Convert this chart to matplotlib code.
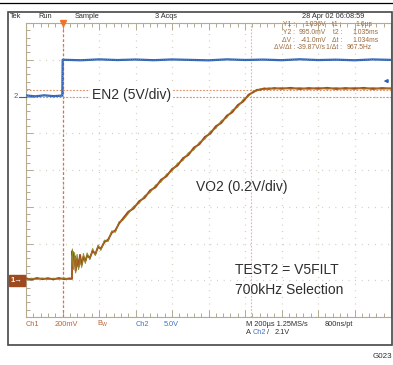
import matplotlib
matplotlib.use("Agg")
import matplotlib.pyplot as plt
import matplotlib.transforms as mtransforms
from matplotlib.patches import Rectangle
from matplotlib.ticker import MultipleLocator

plt.rcParams['font.family'] = ['Liberation Sans', 'DejaVu Sans']

# --- scope settings ---
ch1_vdiv = 0.2      # V/div
ch2_vdiv = 5.0      # V/div
t_div = 200         # us/div
trig_t = 0.0
trig_level = 2.1    # V on ch2

# cursors
t1 = 1.6
t2 = 1035.0
y1 = 1.036
y2 = 0.995

# --- VO2 (ch1), two acquisitions ---
vo2_t = [-200, -170, -140, -110, -80, -50, -20, 10, 40, 52,
         54, 60, 66, 72, 80, 88, 96, 105, 115, 125, 135, 150, 165, 180, 195, 210, 230, 250, 270, 290, 310, 330,
         360, 390, 420, 450, 480, 510, 540, 570, 600, 630, 660, 690, 720, 750, 780, 810, 840, 870, 900, 930,
         960, 990, 1020,
         1045, 1065, 1085, 1105, 1130, 1160, 1200, 1250, 1300, 1350, 1400, 1450, 1500, 1550, 1600, 1650,
         1700, 1750, 1800]
vo2_a = [0.010, 0.004, 0.012, 0.006, 0.011, 0.005, 0.012, 0.006, 0.010, 0.008,
         0.158, 0.105, 0.132, 0.052, 0.118, 0.072, 0.138, 0.084, 0.128, 0.104, 0.134, 0.122, 0.160, 0.143,
         0.181, 0.172, 0.208, 0.221, 0.259, 0.272, 0.309, 0.334,
         0.372, 0.391, 0.430, 0.449, 0.489, 0.506, 0.547, 0.566, 0.605, 0.624, 0.664, 0.682, 0.722, 0.740,
         0.780, 0.798, 0.838, 0.856, 0.895, 0.914, 0.953, 0.973, 1.010,
         1.023, 1.036, 1.037, 1.044, 1.041, 1.046, 1.042, 1.047, 1.041, 1.046, 1.042, 1.047, 1.041, 1.046,
         1.042, 1.047, 1.041, 1.046, 1.043]
vo2_b = [0.004, 0.011, 0.005, 0.012, 0.004, 0.011, 0.005, 0.012, 0.004, 0.006,
         0.170, 0.060, 0.150, 0.040, 0.140, 0.058, 0.120, 0.070, 0.145, 0.092, 0.148, 0.112, 0.172, 0.135,
         0.192, 0.163, 0.218, 0.212, 0.268, 0.262, 0.318, 0.326,
         0.362, 0.402, 0.419, 0.460, 0.477, 0.518, 0.535, 0.577, 0.594, 0.636, 0.652, 0.694, 0.710, 0.751,
         0.768, 0.810, 0.826, 0.868, 0.884, 0.926, 0.942, 0.984, 1.002,
         1.030, 1.030, 1.043, 1.037, 1.047, 1.040, 1.048, 1.040, 1.048, 1.039, 1.049, 1.040, 1.048, 1.039,
         1.049, 1.040, 1.048, 1.040, 1.046]

# --- EN2 (ch2) ---
en2_t = [-200, -150, -100, -50, -1, 1, 100, 200, 300, 400, 500, 600, 700, 800, 900, 1000,
         1100, 1200, 1300, 1400, 1500, 1600, 1700, 1800]
en2_v = [0.15, 0.02, 0.16, 0.05, 0.12, 5.00, 4.93, 5.05, 4.96, 5.03, 4.94, 5.04, 4.98, 4.92, 5.05,
         4.97, 5.02, 4.94, 5.06, 4.96, 5.01, 4.93, 5.04, 4.98]

brown = '#a9481b'
olive = '#8d9c2e'
blue = '#2f62b3'
grat = '#b4aa90'
curs = '#e08a62'
txt = '#2e2e2e'
rd = '#9a6a3e'

W, H = 393, 365
fig = plt.figure(figsize=(W / 100, H / 100), dpi=100)

# graticule
gl, gr, gt, gb = 26, 391, 23, 317
ax = fig.add_axes([gl / W, (H - gb) / H, (gr - gl) / W, (gb - gt) / H])
ax.set_xlim(-t_div, 9 * t_div)
ax.set_ylim(-ch1_vdiv, 7 * ch1_vdiv)
ax.xaxis.set_major_locator(MultipleLocator(t_div))
ax.xaxis.set_minor_locator(MultipleLocator(t_div / 5))
ax.yaxis.set_major_locator(MultipleLocator(ch1_vdiv))
ax.yaxis.set_minor_locator(MultipleLocator(ch1_vdiv / 5))
ax.tick_params(which='both', direction='in', top=True, right=True, color=grat,
               labelbottom=False, labelleft=False, width=0.7)
ax.tick_params(which='major', length=5)
ax.tick_params(which='minor', length=2.6)
for s in ax.spines.values():
    s.set_color(grat)
    s.set_linewidth(0.8)
ax.grid(True, which='major', color='#c4bca6', lw=0.9, linestyle=(0, (0.6, 4.66)))

# cursors
ax.axvline(t1, color='#e2703c', lw=0.9, linestyle=(0, (2.2, 1.6)), zorder=2)
ax.axvline(t2, color='#eab0a0', lw=0.8, linestyle=(0, (1.5, 1.5)), zorder=2)
ax.axhline(y1, color=curs, lw=0.8, linestyle=(0, (1.5, 1.5)), zorder=2)
ax.axhline(y2, color=curs, lw=0.8, linestyle=(0, (1.5, 1.5)), zorder=2)
ax.plot([trig_t], [7 * ch1_vdiv], marker='v', ms=4.5, color='#f07428', clip_on=False, zorder=6)

# VO2
ax.plot(vo2_t, vo2_b, color=olive, lw=0.8, zorder=3)
ax.plot(vo2_t, vo2_a, color=brown, lw=1.4, zorder=4)
ax.plot(vo2_t, vo2_b, color=olive, lw=0.5, alpha=0.7, zorder=5)

# EN2 on its own scale
ax2 = ax.twinx()
ax2.set_ylim(-6 * ch2_vdiv, 2 * ch2_vdiv)
ax2.axis('off')
ax2.plot(en2_t, en2_v, color=blue, lw=1.6, zorder=4)
ax2.plot(en2_t, en2_v, color='#7a9fdc', lw=0.5, linestyle=(0, (1, 2)), zorder=5)
ax2.annotate('', xy=(0.972, trig_level), xytext=(1.0, trig_level),
             xycoords=('axes fraction', 'data'), textcoords=('axes fraction', 'data'),
             arrowprops=dict(arrowstyle='-|>', color=blue, lw=1.0, mutation_scale=5))

# page overlay in pixel units, drawn above the graticule
bg = fig.add_axes([0, 0, 1, 1])
bg.set_zorder(5)
bg.set_xlim(0, W)
bg.set_ylim(H, 0)
bg.axis('off')
bg.plot([0, W], [3, 3], color='black', lw=0.9)
bg.add_patch(Rectangle((8, 12), 384, 333, fill=False, ec='#474747', lw=1.2))

# ground markers
tr1 = mtransforms.blended_transform_factory(bg.transData, ax.transData)
bg.text(11, 0, '1\u2192', transform=tr1, color='white', fontsize=5.5, va='center', ha='left',
        fontweight='bold',
        bbox=dict(boxstyle='square,pad=0.25', fc='#9e4a1e', ec='#9e4a1e'))
tr2 = mtransforms.blended_transform_factory(bg.transData, ax2.transData)
bg.text(14, 0, '2', transform=tr2, color=blue, fontsize=5.5, va='center', ha='left')
bg.plot([19, 26], [0, 0], transform=tr2, color=blue, lw=0.8)

# header
sm = 5.3
bg.text(10, 16, 'Tek', fontsize=sm, color=txt, va='center')
bg.text(38, 16, 'Run', fontsize=sm, color=txt, va='center')
bg.text(75, 16, 'Sample', fontsize=sm, color=txt, va='center')
bg.text(155, 16, '3 Acqs', fontsize=sm, color=txt, va='center')
bg.text(302, 16, '28 Apr 02 06:08:59', fontsize=sm, color=txt, va='center')

# cursor readout
rd_fs = 4.9
rows = [25, 32.5, 40, 47.5]
labels_v = ['Y1 :', 'Y2 :', '\u0394V :', '\u0394V/\u0394t :']
values_v = ['1.036V', '995.0mV', '-41.0mV', '-39.87V/s']
labels_t = ['t1 :', 't2 :', '\u0394t :', '1/\u0394t :']
values_t = ['1.6\u00b5s', '1.035ms', '1.034ms', '967.5Hz']
values_t_x = [355, 352, 352, 347]
for i, yy in enumerate(rows):
    bg.text(295, yy, labels_v[i], fontsize=rd_fs, color=rd, va='center', ha='right')
    bg.text(326, yy, values_v[i], fontsize=rd_fs, color=rd, va='center', ha='right')
    bg.text(342, yy, labels_t[i], fontsize=rd_fs, color=rd, va='center', ha='right')
    bg.text(values_t_x[i], yy, values_t[i], fontsize=rd_fs, color=rd, va='center', ha='left')

# footer
bg.text(26, 324, 'Ch1', fontsize=sm, color='#b86434', va='center')
bg.text(55, 324, '200mV', fontsize=sm, color='#b86434', va='center')
bg.text(97, 324, r'B$_\mathregular{W}$', fontsize=sm, color='#b86434', va='center')
bg.text(136, 324, 'Ch2', fontsize=sm, color='#3f72c4', va='center')
bg.text(164, 324, '5.0V', fontsize=sm, color='#3f72c4', va='center')
bg.text(246, 324, 'M 200\u00b5s 1.25MS/s', fontsize=sm, color=txt, va='center')
bg.text(325, 324, '800ns/pt', fontsize=sm, color=txt, va='center')
bg.text(246, 332, 'A', fontsize=sm, color=txt, va='center')
bg.text(253, 332, 'Ch2', fontsize=sm, color='#3f72c4', va='center')
bg.text(267, 332, '/', fontsize=sm, color=txt, va='center')
bg.text(275, 332, '2.1V', fontsize=sm, color=txt, va='center')
bg.text(373, 357, 'G023', fontsize=5.8, color=txt, va='center')

# annotations
big = 10
bg.text(92, 95, 'EN2 (5V/div)', fontsize=big, color=txt, va='center',
        bbox=dict(boxstyle='square,pad=0.15', fc='white', ec='none'))
bg.text(196, 187, 'VO2 (0.2V/div)', fontsize=big, color=txt, va='center')
bg.text(235, 270, 'TEST2 = V5FILT', fontsize=big, color=txt, va='center')
bg.text(235, 290, '700kHz Selection', fontsize=big, color=txt, va='center')

fig.savefig('out.png', dpi=100)
